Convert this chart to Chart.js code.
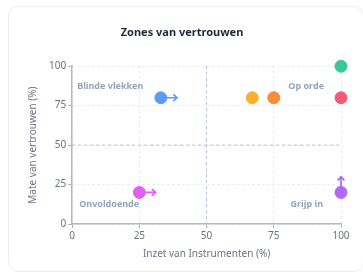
<!DOCTYPE html>
<html>
<head>
<meta charset="utf-8">
<script src="https://cdn.jsdelivr.net/npm/chart.js@4"></script>
<style>
  html, body { margin: 0; padding: 0; background: #fff; }
  .card {
    position: absolute; left: 8px; top: 6px; width: 356px; height: 266px;
    border: 1px solid #eceef2; border-radius: 10px; box-sizing: border-box;
  }
  #wrap { position: absolute; left: 0; top: 0; width: 363px; height: 276px; }
</style>
</head>
<body>
<div class="card"></div>
<div id="wrap"><canvas id="zonesChart"></canvas></div>
<script>
// punten: inzet (x) en vertrouwen (y)
const inzet = [33, 67, 75, 100, 100, 25, 100];
const vertrouwen = [80, 80, 80, 80, 100, 20, 20];
// richting waarin een punt beweegt (null = geen pijl)
const doelInzet = [39, null, null, null, null, 31, 100];
const doelVertrouwen = [80, null, null, null, null, 20, 30];
const kleuren = ['#5c9cf7', '#fbb02e', '#fa8a3c', '#f45b79', '#38c992', '#e060f0', '#b068f5'];
const zoneLabels = ['Blinde vlekken', 'Op orde', 'Onvoldoende', 'Grijp in'];
const ticks = [0, 25, 50, 75, 100];

const zonesPlugin = {
    id: 'zones',
    beforeDatasetsDraw(chart) {
        const { ctx, chartArea, scales } = chart;
        const x = scales.x, y = scales.y;
        ctx.save();
        // middenlijnen
        ctx.strokeStyle = '#b9c2de';
        ctx.lineWidth = 1;
        ctx.setLineDash([3, 3]);
        ctx.beginPath();
        ctx.moveTo(x.getPixelForValue(50), chartArea.top);
        ctx.lineTo(x.getPixelForValue(50), chartArea.bottom);
        ctx.moveTo(chartArea.left, y.getPixelForValue(50));
        ctx.lineTo(chartArea.right, y.getPixelForValue(50));
        ctx.stroke();
        ctx.setLineDash([]);
        // zone labels
        ctx.font = 'bold 9px "Noto Sans", sans-serif';
        ctx.fillStyle = '#97a3b8';
        ctx.textBaseline = 'middle';
        ctx.textAlign = 'left';
        ctx.fillText(zoneLabels[0], chartArea.left + 5, chartArea.top + 20);
        ctx.fillText(zoneLabels[2], chartArea.left + 7, chartArea.bottom - 20);
        ctx.textAlign = 'right';
        ctx.fillText(zoneLabels[1], chartArea.right - 17, chartArea.top + 20);
        ctx.fillText(zoneLabels[3], chartArea.right - 18, chartArea.bottom - 20);
        ctx.restore();
    },
    afterDatasetsDraw(chart) {
        const { ctx, scales } = chart;
        ctx.save();
        ctx.lineWidth = 1.7;
        inzet.forEach((v, i) => {
            if (doelInzet[i] === null) return;
            const x0 = scales.x.getPixelForValue(v);
            const y0 = scales.y.getPixelForValue(vertrouwen[i]);
            const x1 = scales.x.getPixelForValue(doelInzet[i]);
            const y1 = scales.y.getPixelForValue(doelVertrouwen[i]);
            const a = Math.atan2(y1 - y0, x1 - x0);
            ctx.strokeStyle = kleuren[i];
            ctx.beginPath();
            ctx.moveTo(x0, y0);
            ctx.lineTo(x1, y1);
            ctx.moveTo(x1 - 5 * Math.cos(a - 0.75), y1 - 5 * Math.sin(a - 0.75));
            ctx.lineTo(x1, y1);
            ctx.lineTo(x1 - 5 * Math.cos(a + 0.75), y1 - 5 * Math.sin(a + 0.75));
            ctx.stroke();
        });
        ctx.restore();
    }
};

const ctx = document.getElementById('zonesChart').getContext('2d');
new Chart(ctx, {
    type: 'scatter',
    data: {
        datasets: [{
            label: 'Instrumenten',
            data: inzet.map((v, i) => ({ x: v, y: vertrouwen[i] })),
            backgroundColor: kleuren,
            borderColor: kleuren,
            pointRadius: 6,
            pointHoverRadius: 6,
            clip: false
        }]
    },
    options: {
        responsive: true,
        maintainAspectRatio: false,
        animation: false,
        layout: { padding: { left: 23, right: 22, top: 26, bottom: 12 } },
        plugins: {
            legend: { display: false },
            tooltip: { enabled: false },
            title: {
                display: true,
                text: 'Zones van vertrouwen',
                color: '#1f2937',
                font: { family: '"Noto Sans", sans-serif', size: 11, weight: 'bold' },
                padding: { top: 0, bottom: 27 }
            }
        },
        scales: {
            x: {
                min: 0, max: 100,
                afterBuildTicks: axis => { axis.ticks = ticks.map(v => ({ value: v })); },
                ticks: { color: '#6b7280', font: { family: '"Noto Sans", sans-serif', size: 10 }, padding: 2 },
                grid: { color: '#e3e6ec', tickLength: 4, tickColor: '#b0b0b0' },
                border: { color: '#b8b8b8', width: 1.5, dash: [2, 3] },
                title: {
                    display: true, text: 'Inzet van Instrumenten (%)', color: '#6b7280',
                    font: { family: '"Noto Sans", sans-serif', size: 10 }, padding: { top: 4 }
                }
            },
            y: {
                min: 0, max: 100,
                afterBuildTicks: axis => { axis.ticks = ticks.map(v => ({ value: v })); },
                ticks: { color: '#6b7280', font: { family: '"Noto Sans", sans-serif', size: 10 }, padding: 2 },
                grid: { color: '#e3e6ec', tickLength: 4, tickColor: '#b0b0b0' },
                border: { color: '#b8b8b8', width: 1.5, dash: [2, 3] },
                title: {
                    display: true, text: 'Mate van vertrouwen (%)', color: '#6b7280',
                    font: { family: '"Noto Sans", sans-serif', size: 10 }, padding: { bottom: 8 }
                }
            }
        }
    },
    plugins: [zonesPlugin]
});
</script>
</body>
</html>
